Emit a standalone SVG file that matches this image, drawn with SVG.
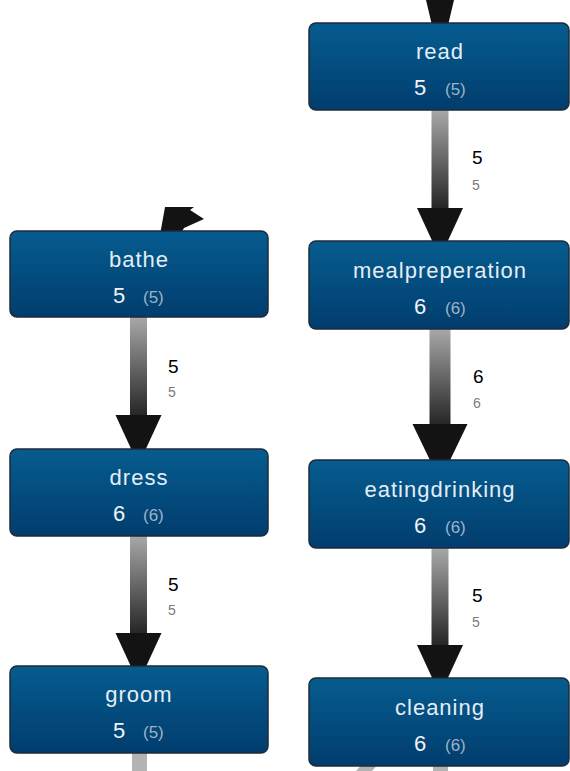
<svg xmlns="http://www.w3.org/2000/svg" width="570" height="771" viewBox="0 0 570 771">
<defs>
<linearGradient id="ng" x1="0" y1="0" x2="0" y2="1">
<stop offset="0" stop-color="#065c8f"/>
<stop offset="1" stop-color="#013d6e"/>
</linearGradient>
<linearGradient id="sg" x1="0" y1="0" x2="0" y2="1">
<stop offset="0" stop-color="#a8a8a8"/>
<stop offset="1" stop-color="#262626"/>
</linearGradient>
<style>
.node rect{fill:url(#ng);stroke:#1e2b38;stroke-width:1.5}
.t{font-family:"Liberation Sans",Arial,sans-serif;font-size:22px;fill:#e4edf5;text-anchor:middle;letter-spacing:1px}
.n{font-family:"Liberation Sans",Arial,sans-serif;font-size:22px;fill:#f0f4f8;text-anchor:middle}
.p{font-family:"Liberation Sans",Arial,sans-serif;font-size:17px;fill:#9db3c8}
.shaft{fill:url(#sg)}
.head{fill:#131313}
.stub{fill:#b3b3b3}
.l1{font-family:"Liberation Sans",Arial,sans-serif;font-size:19px;fill:#000}
.l2{font-family:"Liberation Sans",Arial,sans-serif;font-size:14px;fill:#7a7a7a}
</style>
</defs>
<g id="connectors">
<polygon class="head" points="426,0 454,0 440,59"/>
<polygon class="head" points="165,207 194,207 190,210 204,219 184,228 180,235 160,235"/>
<rect class="shaft" x="431.5" y="110" width="17" height="98"/>
<polygon class="head" points="417,208 463,208 440,258"/>
<text class="l1" x="472" y="164">5</text>
<text class="l2" x="472" y="190">5</text>
<rect class="shaft" x="429.5" y="329" width="21" height="95"/>
<polygon class="head" points="412.5,424 467.5,424 440,481"/>
<text class="l1" x="473" y="383">6</text>
<text class="l2" x="473" y="408">6</text>
<rect class="shaft" x="431.5" y="548" width="17" height="97"/>
<polygon class="head" points="417,645 463,645 440,695"/>
<text class="l1" x="472" y="602">5</text>
<text class="l2" x="472" y="627">5</text>
<rect class="shaft" x="130" y="317" width="17" height="98"/>
<polygon class="head" points="115.5,415 161.5,415 138.5,465"/>
<text class="l1" x="168" y="373">5</text>
<text class="l2" x="168" y="397">5</text>
<rect class="shaft" x="130" y="536" width="17" height="97"/>
<polygon class="head" points="115.5,633 161.5,633 138.5,683"/>
<text class="l1" x="168" y="591">5</text>
<text class="l2" x="168" y="615">5</text>
<rect class="stub" x="132" y="750" width="15" height="21"/>
<rect class="stub" x="433" y="760" width="15" height="11"/>
<polygon class="stub" points="363,763 379,763 372,771 356,771"/>
</g>
<g id="read" class="node"><rect x="309" y="23" width="260" height="87" rx="7"/><text class="t" x="440" y="59">read</text><text class="n" x="420" y="95">5</text><text class="p" x="445" y="95">(5)</text></g>
<g id="mealpreperation" class="node"><rect x="309" y="241" width="260" height="88" rx="7"/><text class="t" x="440" y="278">mealpreperation</text><text class="n" x="420" y="314">6</text><text class="p" x="445" y="314">(6)</text></g>
<g id="eatingdrinking" class="node"><rect x="309" y="460" width="260" height="88" rx="7"/><text class="t" x="440" y="497">eatingdrinking</text><text class="n" x="420" y="533">6</text><text class="p" x="445" y="533">(6)</text></g>
<g id="cleaning" class="node"><rect x="309" y="678" width="260" height="88" rx="7"/><text class="t" x="440" y="715">cleaning</text><text class="n" x="420" y="751">6</text><text class="p" x="445" y="751">(6)</text></g>
<g id="bathe" class="node"><rect x="10" y="231" width="258" height="86" rx="7"/><text class="t" x="139" y="267">bathe</text><text class="n" x="119" y="303">5</text><text class="p" x="143" y="303">(5)</text></g>
<g id="dress" class="node"><rect x="10" y="449" width="258" height="87" rx="7"/><text class="t" x="139" y="485">dress</text><text class="n" x="119" y="521">6</text><text class="p" x="143" y="521">(6)</text></g>
<g id="groom" class="node"><rect x="10" y="666" width="258" height="87" rx="7"/><text class="t" x="139" y="702">groom</text><text class="n" x="119" y="738">5</text><text class="p" x="143" y="738">(5)</text></g>
</svg>
